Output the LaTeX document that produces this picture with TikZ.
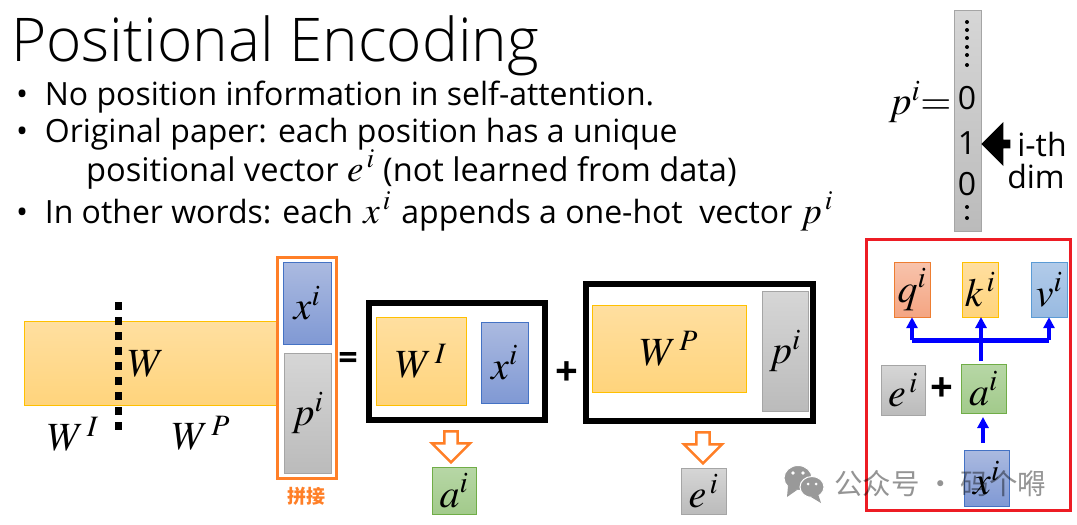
\documentclass[tikz,border=0pt]{standalone}
\usepackage{amsmath}
\usepackage{mathptmx}
\usepackage[no-math]{fontspec}
\setmainfont{Open Sans}
\newfontfamily\lightfont{Open Sans Light}
\newfontfamily\cjk{Noto Sans CJK SC}
\usepackage{xcolor}
\usepackage{tikz}
\usetikzlibrary{arrows.meta, shapes.arrows}
\definecolor{goldtop}{HTML}{FFDFA0}
\definecolor{goldbot}{HTML}{FFD47C}
\definecolor{goldline}{HTML}{FFC000}
\definecolor{bluetop}{HTML}{ABBAE0}
\definecolor{bluebot}{HTML}{8099D4}
\definecolor{blueline}{HTML}{4472C4}
\definecolor{greytop}{HTML}{D6D6D6}
\definecolor{greybot}{HTML}{BBBBBB}
\definecolor{greyline}{HTML}{A5A5A5}
\definecolor{greentop}{HTML}{B7D7A6}
\definecolor{greenbot}{HTML}{A2CA8B}
\definecolor{greenline}{HTML}{70AD47}
\definecolor{salmontop}{HTML}{F8C3AC}
\definecolor{salmonbot}{HTML}{F4A582}
\definecolor{salmonline}{HTML}{ED7D31}
\definecolor{skytop}{HTML}{B2CBE9}
\definecolor{skybot}{HTML}{98BAE1}
\definecolor{skyline}{HTML}{5B9BD5}
\definecolor{framered}{HTML}{ED1C24}
\definecolor{frameorange}{HTML}{FF7F27}
\newcommand{\fs}[1]{\fontsize{#1}{#1}\selectfont}
\newcommand{\inmath}[1]{{\fs{37}$#1$}}

\begin{document}
\begin{tikzpicture}[x=1pt, y=-1pt,
    box/.style 2 args={minimum width=#1pt, minimum height=#2pt, inner sep=0pt, font=\fs{40}},
    goldbox/.style={draw=goldline, top color=goldtop, bottom color=goldbot},
    bluebox/.style={draw=blueline, top color=bluetop, bottom color=bluebot},
    greybox/.style={draw=greyline, top color=greytop, bottom color=greybot},
    greenbox/.style={draw=greenline, top color=greentop, bottom color=greenbot},
    salmonbox/.style={draw=salmonline, top color=salmontop, bottom color=salmonbot},
    skybox/.style={draw=skyline, top color=skytop, bottom color=skybot},
    blackframe/.style={draw=black, line width=6pt},
    textline/.style={anchor=base west, inner sep=0pt, font=\fs{32}},
    sym/.style={inner sep=0pt, font=\fs{40}\bfseries},
    hollow/.style={single arrow, rotate=-90, draw=frameorange, fill=white, line width=2.5pt,
      minimum height=31pt, minimum width=38pt, single arrow head extend=8pt, inner sep=3pt},
    link/.style={draw=blue, line width=3.5pt, -{Triangle[length=11pt, width=11pt]}},
    digit/.style={inner sep=0pt, font=\fs{32}},
    wechat/.style={fill=black!40, draw=white, line width=1pt}
  ]
\useasboundingbox (0,0) rectangle (1077,525);
\node[anchor=base west, inner sep=0pt, font=\lightfont\fs{60.3}] (title) at (11,61) {Positional Encoding};
\node[textline] (b1) at (16,105) {\textbullet\ \ No position information in self-attention.};
\node[textline] (b2) at (16,142) {\textbullet\ \ Original paper: each position has a unique};
\node[textline, font=\fs{32.6}] (b3) at (86,181) {positional vector \inmath{e^{\,i}} (not learned from data)};
\node[textline] (b4) at (16,223) {\textbullet\ \ In other words: each \hspace{2pt}\inmath{x^{\,i}}\hspace{2pt} appends a one-hot\ \ vector \inmath{p^{\,i}}};

\node[goldbox, box={253}{84}] (wbar) at (150.5,363) {};
\node[box={10}{10}] (wlabel) at (146,364) {$W$};
\node[box={10}{10}] (wi) at (73,434) {$W^{\mkern2mu I}$};
\node[box={10}{10}] (wp) at (201,433) {$W^{\mkern2mu P}$};
\coordinate (cuttop) at (118,302);
\coordinate (cutbot) at (118,436);
\draw[line width=7pt, dash pattern=on 8pt off 7pt] (cuttop) -- (cutbot);

\node[draw=frameorange, line width=3pt, minimum width=59pt, minimum height=221pt] (concat) at (307,367.5) {};
\node[bluebox, box={48}{82}] (x1) at (307,303) {$x^i$};
\node[greybox, box={47}{120}] (p1) at (307.5,413) {$p^i$};
\node[inner sep=0pt, text=frameorange, font=\cjk\bfseries\fs{19}] (pinjie) at (306,496) {拼接};
\node[sym, font=\fs{34}\bfseries] (eq) at (348,361) {=};

\node[blackframe, minimum width=176pt, minimum height=117pt] (left) at (456.5,361.5) {};
\node[goldbox, box={90}{88}] (wi2) at (421,361) {$W^{\mkern2mu I}$};
\node[bluebox, box={47}{81}] (x2) at (504.5,362.5) {$x^i$};
\node[sym] (plus1) at (567,374) {+};
\node[blackframe, minimum width=227pt, minimum height=137pt] (right) at (699.5,352.5) {};
\node[goldbox, box={154}{87}] (wp2) at (669,348.5) {$W^{\mkern2mu P}$};
\node[greybox, box={46}{120}] (p2) at (785,351) {$p^i$};

\node[hollow] (down1) at (451,443.5) {};
\node[hollow] (down2) at (703,444.5) {};
\node[greenbox, box={44}{47}] (a1) at (454,490.5) {$a^i$};
\node[greybox, box={45}{46}] (e1) at (703.5,491) {$e^{\,i}$};

\node[draw=framered, line width=3pt, minimum width=204pt, minimum height=271pt] (redframe) at (968.5,375) {};
\node[salmonbox, box={36}{55}] (q) at (912,289.5) {$q^i$};
\node[goldbox, box={36}{55}] (k) at (980,289.5) {$k^{\,i}$};
\node[skybox, box={36}{55}] (v) at (1049,289.5) {$v^i$};
\node[greybox, box={44}{50}] (e2) at (903,390) {$e^{\,i}$};
\node[sym] (plus2) at (942,390) {+};
\node[greenbox, box={45}{49}] (a2) at (983.5,388.5) {$a^i$};
\node[bluebox, box={45}{56}] (x3) at (986.5,478) {$x^i$};
\coordinate (busl) at (912,340);
\coordinate (busr) at (1049,340);
\coordinate (busm) at (981,340);
\coordinate (astem) at (981,361);
\coordinate (xstem) at (983,443);
\coordinate (atip) at (983,417);
\coordinate (ktip) at (981,317);
\draw[draw=blue, line width=5pt] (busl) -- (busr);
\draw[draw=blue, line width=3.5pt] (astem) -- (busm);
\draw[link] (busl) -- (q.south);
\draw[link] (busm) -- (ktip);
\draw[link] (busr) -- (v.south);
\draw[link] (xstem) -- (atip);

\node[greybox, box={27}{221}] (column) at (967.5,120.5) {};
\foreach \i in {22,30,38,47,55,65} \fill (967,\i) circle (2pt);
\fill (967,207) circle (2pt) (967,218) circle (2pt);
\node[digit] (zero1) at (967,98) {0};
\node[digit] (one) at (967,143) {1};
\node[digit] (zero2) at (967,184) {0};
\node[inner sep=0pt, font=\fs{40}] (plabel) at (920,102) {$p^i\!\!=$};
\node[single arrow, fill=black, shape border rotate=180, minimum height=29pt, minimum width=44pt,
  single arrow head extend=9pt, inner sep=2pt] (pointer) at (998,144) {};
\node[digit] (ith) at (1042,144) {i-th};
\node[digit] (dim) at (1036,176) {dim};

\fill[wechat] (798,478) ellipse (14pt and 12.5pt);
\fill[black!40] (788,486) -- (787,497) -- (797,490) -- cycle;
\fill[wechat] (812,487) ellipse (12pt and 10.5pt);
\fill[black!40] (818,494) -- (821,503) -- (811,497) -- cycle;
\fill[white] (793,473) circle (1.8pt) (803,473) circle (1.8pt) (808,484) circle (1.5pt) (816,484) circle (1.5pt);
\node[anchor=west, inner sep=0pt, text=black, opacity=0.42, font=\cjk\fs{28.5}] (mark1) at (834,484) {公众号 · 码个嘚};
\end{tikzpicture}
\end{document}
